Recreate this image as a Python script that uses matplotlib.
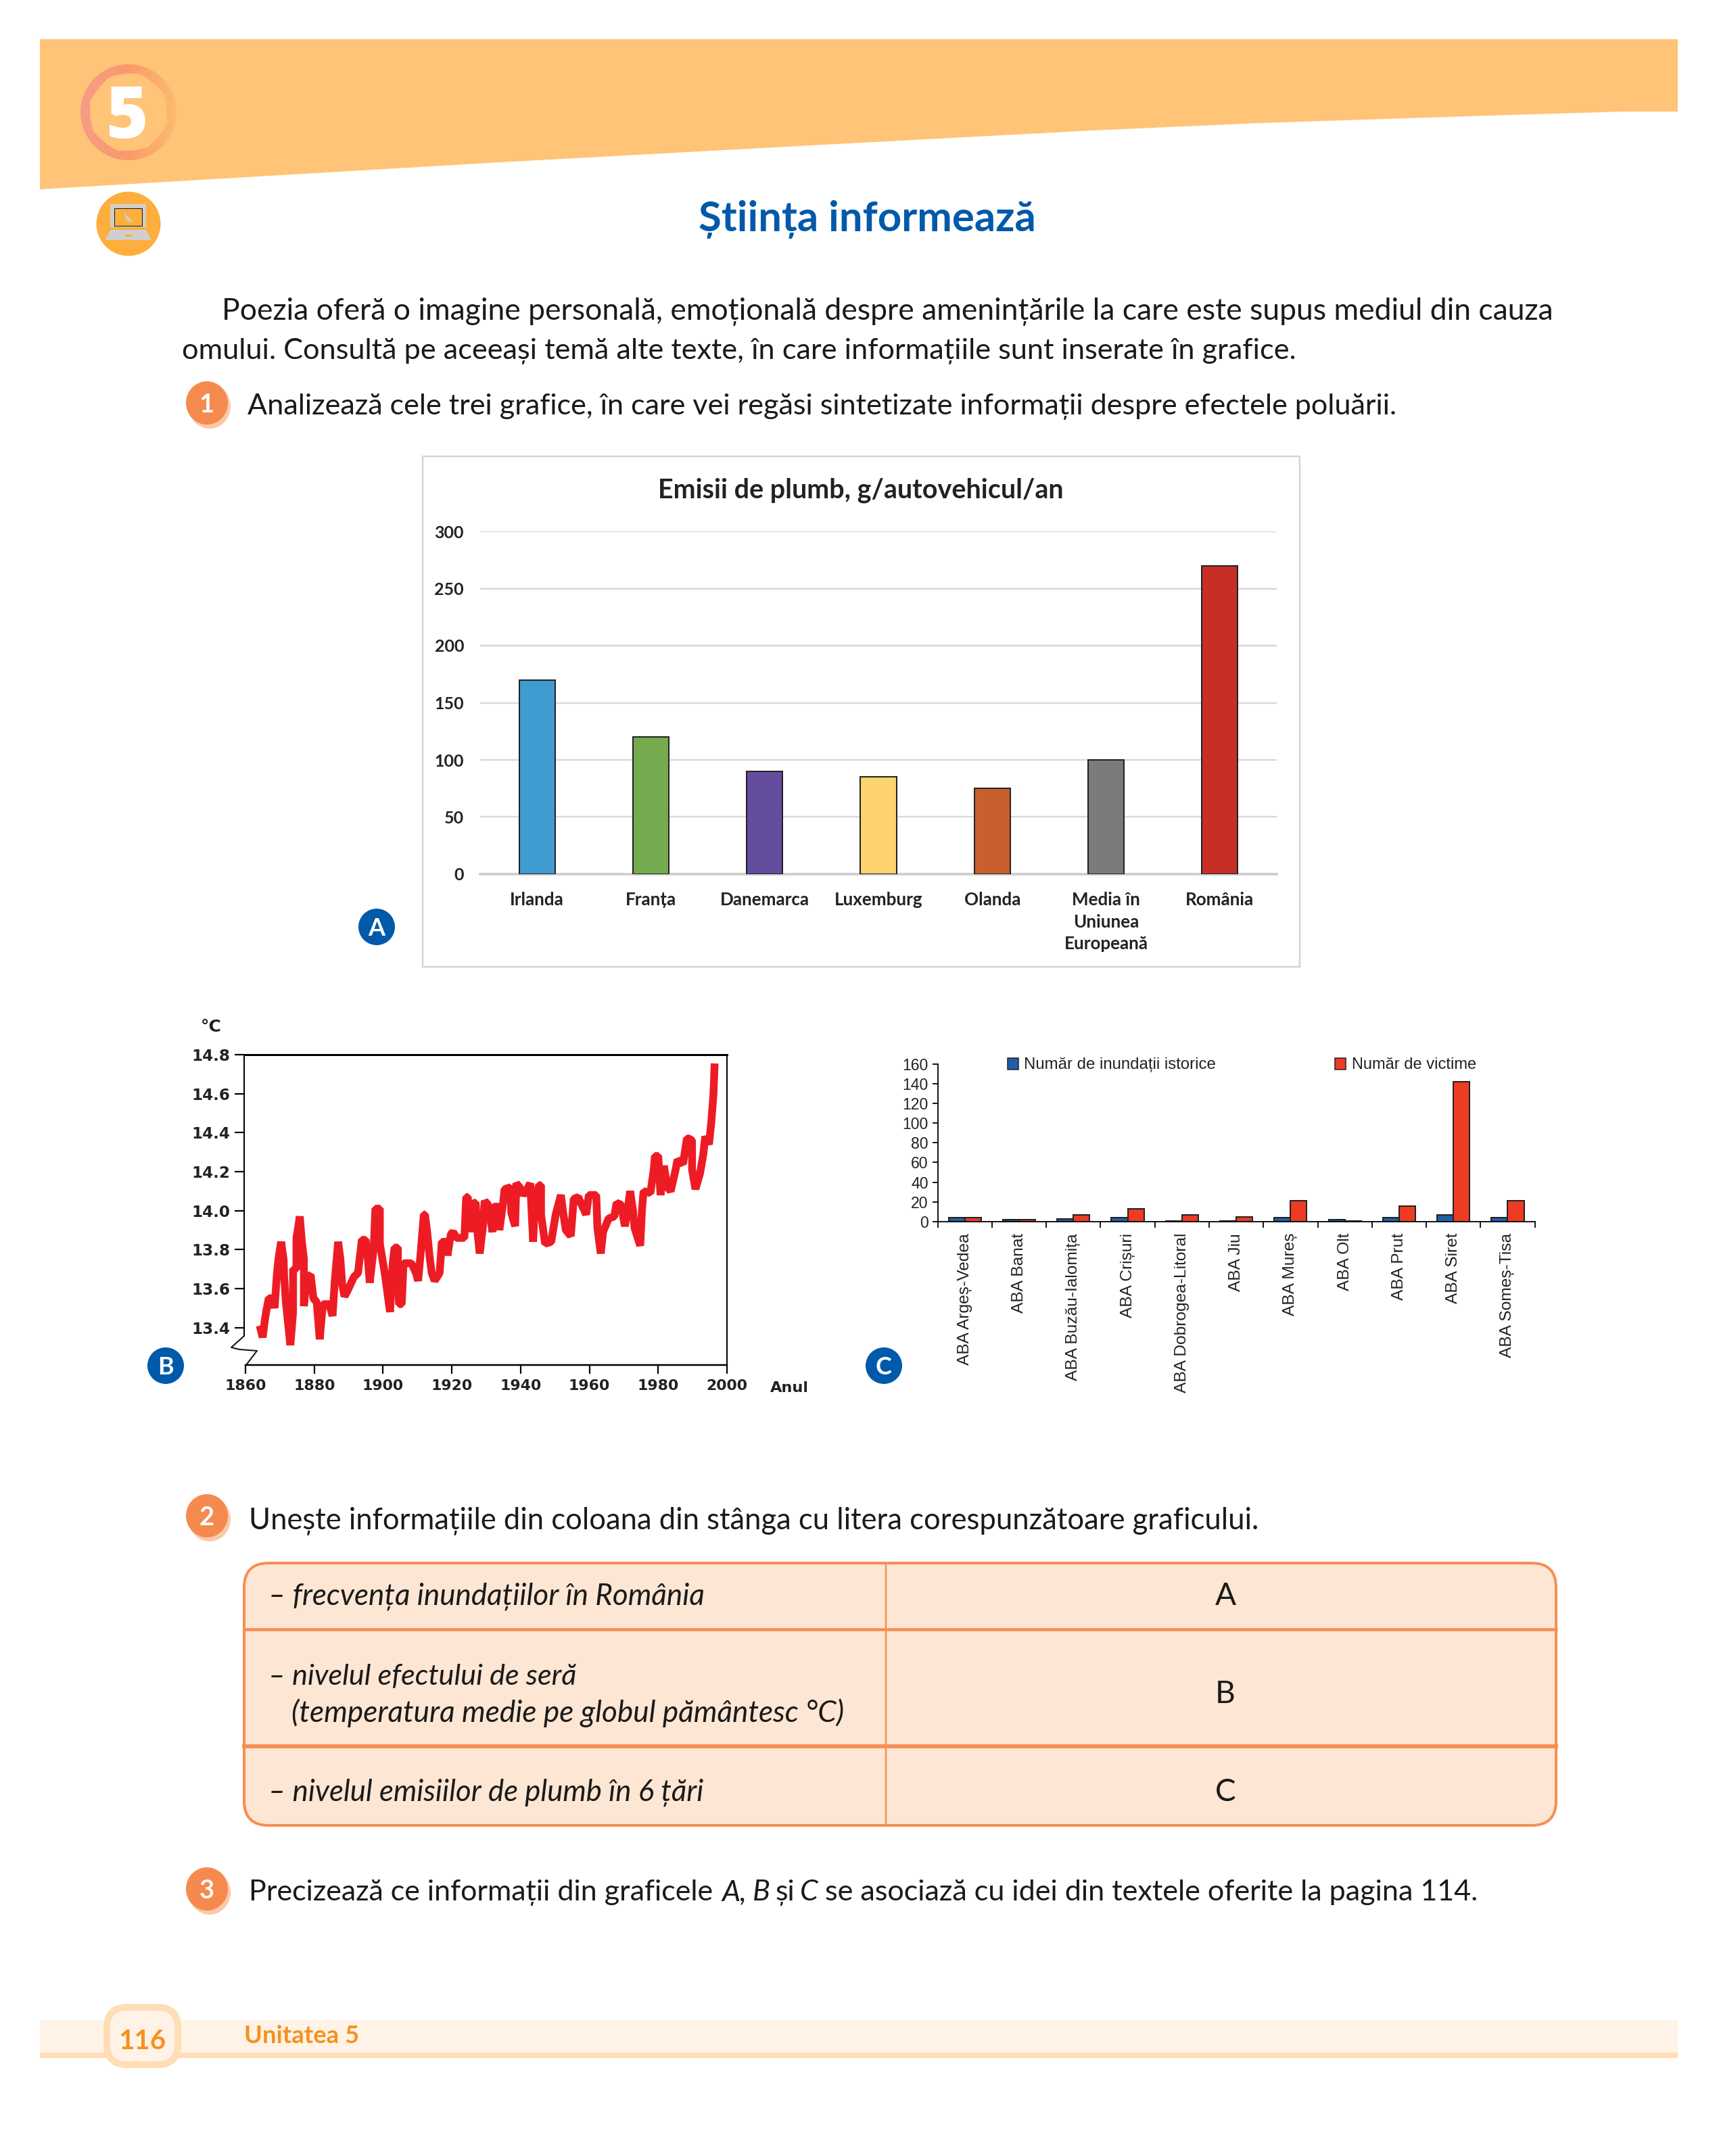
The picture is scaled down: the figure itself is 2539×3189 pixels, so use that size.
import numpy as np
import matplotlib
matplotlib.use('Agg')
import matplotlib.pyplot as plt
from matplotlib.patches import Ellipse, FancyBboxPatch, Polygon, Rectangle, PathPatch
from matplotlib.path import Path

W, H = 2539, 3189
PT = 0.72  # points per pixel at dpi 100

# ---- chart A
a_cats = ['Irlanda', 'Franța', 'Danemarca', 'Luxemburg', 'Olanda', 'Media în\nUniunea\nEuropeană', 'România']
a_vals = [170, 120, 90, 85, 75, 100, 270]
a_cols = ['#3F9BD0', '#74AB4F', '#644C9F', '#FCD36C', '#C85F2D', '#7C7A7C', '#C62E27']
a_ticks = [0, 50, 100, 150, 200, 250, 300]

# ---- chart B
b_years = [1864.13, 1864.99, 1865.64, 1866.1, 1866.76, 1867.94, 1868.46, 1869.11, 1869.57, 1870.36, 1871.08, 1871.21,
           1871.74, 1873.05, 1873.83, 1873.83, 1874.82, 1874.82, 1875.8, 1876.33, 1876.98, 1876.98, 1877.77, 1878.95,
           1879.74, 1880.72, 1881.57, 1882.49, 1884.32, 1885.31, 1885.96, 1886.94, 1887.6, 1888.12, 1888.78, 1889.7,
           1891.53, 1892.71, 1893.83, 1894.94, 1895.6, 1896.12, 1897.3, 1897.76, 1899.07, 1899.07, 1900.38, 1901.04,
           1902.02, 1902.81, 1903.33, 1904.32, 1904.32, 1904.64, 1905.43, 1905.95, 1908.25, 1909.56, 1910.2, 1910.87,
           1911.85, 1912.18, 1912.83, 1913.49, 1914.15, 1915, 1916.44, 1917.1, 1918.27, 1918.73, 1919.72, 1920.37,
           1921.36, 1923.65, 1924.18, 1924.63, 1925.49, 1926.27, 1926.93, 1927.45, 1928.11, 1929.03, 1929.55, 1930.53,
           1931.84, 1932.17, 1933.61, 1933.81, 1934.92, 1935.32, 1937.09, 1937.28, 1938.4, 1938.73, 1939.71, 1940.69,
           1941.87, 1942.79, 1943.64, 1943.97, 1945.28, 1945.94, 1945.94, 1947.12, 1948.89, 1950.2, 1951.71, 1952.36,
           1953.15, 1954.59, 1955.44, 1956.75, 1957.74, 1959.05, 1959.83, 1961.99, 1962.33, 1963.31, 1963.96, 1965.6,
           1967.24, 1967.9, 1969.21, 1970.32, 1971.17, 1971.83, 1972.68, 1973.14, 1974.78, 1975.3, 1975.76, 1977.73,
           1978.71, 1979.04, 1980.02, 1980.68, 1981.66, 1982.65, 1983.63, 1984.94, 1985.6, 1987.23, 1988.35, 1988.87,
           1989.85, 1989.85, 1990.84, 1992.15, 1993.13, 1993.66, 1994.77, 1995.43, 1996.08, 1996.41]
b_temps = [13.41, 13.35, 13.44, 13.49, 13.55, 13.55, 13.50, 13.67, 13.75, 13.84, 13.75, 13.67,
           13.53, 13.31, 13.48, 13.70, 13.70, 13.86, 13.97, 13.85, 13.75, 13.51, 13.66, 13.67,
           13.55, 13.53, 13.34, 13.52, 13.52, 13.46, 13.64, 13.84, 13.75, 13.62, 13.56, 13.59,
           13.66, 13.68, 13.85, 13.85, 13.75, 13.63, 13.81, 14.01, 14.01, 13.83, 13.69, 13.61,
           13.48, 13.73, 13.81, 13.81, 13.69, 13.52, 13.52, 13.73, 13.73, 13.68, 13.64, 13.77,
           13.98, 13.98, 13.89, 13.77, 13.68, 13.64, 13.68, 13.84, 13.84, 13.77, 13.88, 13.89,
           13.86, 13.86, 14.07, 14.07, 13.89, 14.04, 14.04, 13.89, 13.78, 13.92, 14.05, 14.03,
           13.89, 14.02, 14.02, 13.90, 14.04, 14.11, 14.12, 13.99, 13.92, 14.14, 14.12, 14.08,
           14.11, 14.14, 13.84, 13.98, 14.13, 14.13, 13.98, 13.83, 13.84, 13.98, 14.08, 13.99,
           13.90, 13.87, 14.06, 14.07, 14.03, 13.98, 14.08, 14.08, 13.91, 13.78, 13.89, 13.96,
           13.97, 14.04, 14.03, 13.92, 14.01, 14.10, 14.00, 13.91, 13.82, 14.01, 14.10, 14.09,
           14.21, 14.28, 14.28, 14.08, 14.23, 14.12, 14.10, 14.20, 14.26, 14.24, 14.37, 14.37,
           14.36, 14.21, 14.11, 14.19, 14.29, 14.38, 14.34, 14.45, 14.60, 14.755]
b_yticks = [13.4, 13.6, 13.8, 14.0, 14.2, 14.4, 14.6, 14.8]
b_xticks = [1860, 1880, 1900, 1920, 1940, 1960, 1980, 2000]

# ---- chart C
c_cats = ['ABA Argeș-Vedea', 'ABA Banat', 'ABA Buzău-Ialomița', 'ABA Crișuri', 'ABA Dobrogea-Litoral', 'ABA Jiu',
          'ABA Mureș', 'ABA Olt', 'ABA Prut', 'ABA Siret', 'ABA Someș-Tisa']
c_floods = [4, 2, 3, 4, 1, 1, 4, 2, 4, 7, 4]
c_victims = [4, 2, 7, 13, 7, 5, 21, 1, 16, 142, 21]
c_yticks = [0, 20, 40, 60, 80, 100, 120, 140, 160]
c_names = ['Număr de inundații istorice', 'Număr de victime']

fig = plt.figure(figsize=(W / 100, H / 100), dpi=100, facecolor='white')
page = fig.add_axes([0, 0, 1, 1], zorder=0)
over = fig.add_axes([0, 0, 1, 1], zorder=10)
for p in (page, over):
    p.set_xlim(0, W)
    p.set_ylim(H, 0)
    p.axis('off')
    p.patch.set_alpha(0)
rend = fig.canvas.get_renderer()


def fit(x0, x1, y, s, ax=page, family='Lato', **kw):
    t = ax.text(x0, y, s, family=family, va='baseline', ha='left', fontsize=30, **kw)
    w = t.get_window_extent(rend).width
    t.set_fontsize(30 * (x1 - x0) / w)
    return t


def axpx(l, t, r, b):
    return fig.add_axes([l / W, 1 - b / H, (r - l) / W, (b - t) / H], zorder=5)


# ---- page furniture
page.add_patch(Polygon([(59, 58), (2481, 58), (2481, 165), (2402, 165), (2200, 171), (1863, 182), (1615, 193),
                        (1200, 215), (740, 240), (59, 280)],
                       closed=True, fc='#FFC477', ec='none'))
# chapter ring with gradient
cx, cy = 190, 166
outer = Path.circle((cx, cy), 71)
inner = Path.circle((cx, cy), 57)
ring = PathPatch(Path.make_compound_path(outer, Path(inner.vertices[::-1], inner.codes)), fc='none', ec='none')
page.add_patch(ring)
img = page.imshow(np.linspace(0, 1, 256).reshape(1, -1), extent=(cx - 71, cx + 71, cy + 72, cy - 72), aspect='auto',
                  cmap=matplotlib.colors.LinearSegmentedColormap.from_list('r', ['#F89C86', '#F99A6C', '#FDBB6F']),
                  zorder=2)
img.set_clip_path(ring)
page.set_xlim(0, W)
page.set_ylim(H, 0)
page.text(187, 204, '5', color='white', family='Open Sans', weight='extra bold', fontsize=77,
          ha='center', va='baseline', zorder=3)
# laptop icon
page.add_patch(Ellipse((190, 331), 95, 95, fc='#FDAE3C', ec='none'))
page.add_patch(Rectangle((163, 302), 53, 34, fc='#CFCFCF', ec='none'))
page.add_patch(Rectangle((169, 308), 41, 26, fc='#FDAE3C', ec='#222222', lw=0.8))
page.add_patch(Polygon([(163, 340), (216, 340), (224, 355), (156, 355)], closed=True, fc='#CFCFCF', ec='none'))
page.add_patch(Rectangle((185, 347), 10, 3, fc='#FDAE3C', ec='none'))
page.add_patch(Polygon([(183, 315), (196, 327), (192, 329), (187, 325)], closed=True, fc='#CFCFCF', ec='none'))

fit(1033, 1531, 342, 'Știința informează', color='#0059A9', weight='bold')
fit(328, 2298, 473, 'Poezia oferă o imagine personală, emoțională despre amenințările la care este supus mediul din cauza', color='#1A1A1A')
fit(269, 1917, 531, 'omului. Consultă pe aceeași temă alte texte, în care informațiile sunt inserate în grafice.', color='#1A1A1A')
fit(366, 2068, 613, 'Analizează cele trei grafice, în care vei regăsi sintetizate informații despre efectele poluării.', color='#1A1A1A')
fit(368, 1860, 2262, 'Unește informațiile din coloana din stânga cu litera corespunzătoare graficului.', color='#1A1A1A')

for num, by in (('1', 596), ('2', 2242), ('3', 2794)):
    page.add_patch(Ellipse((310, by + 5), 62, 66, fc='#FBC9A8', ec='none'))
    page.add_patch(Ellipse((306, by), 62, 64, fc='#F58A4F', ec='none'))
    page.text(306, by + 14, num, color='white', family='Lato', weight='bold', fontsize=38 * PT, ha='center', va='baseline')

# third instruction, mixed roman and italic
t3 = fit(368, 1056, 2811, 'Precizează ce informații din graficele', color='#1A1A1A')
fit(1220, 2187, 2811, 'se asociază cu idei din textele oferite la pagina 114.', color='#1A1A1A')
for x, s, st in ((1067, 'A,', 'italic'), (1113, 'B', 'italic'), (1147, 'și', 'normal'), (1183, 'C', 'italic')):
    page.text(x, 2811, s, family='Lato', style=st, fontsize=t3.get_fontsize(), color='#1A1A1A', va='baseline', ha='left')

# table
page.add_patch(FancyBboxPatch((361 + 36, 2312 + 36), 2301 - 361 - 72, 2700 - 2312 - 72, boxstyle='round,pad=36,rounding_size=36',
                              fc='#FDE6D3', ec='#F58F55', lw=4 * PT))
page.plot([1310, 1310], [2312, 2700], color='#F58F55', lw=2.5 * PT)
page.plot([361, 2301], [2410, 2410], color='#F58F55', lw=4.5 * PT)
page.plot([361, 2301], [2583, 2583], color='#F58F55', lw=6 * PT)
fit(397, 1042, 2373, '– frecvența inundațiilor în România', style='italic', color='#1A1A1A')
fit(397, 852, 2492, '– nivelul efectului de seră', style='italic', color='#1A1A1A')
fit(431, 1247, 2547, '(temperatura medie pe globul pământesc °C)', style='italic', color='#1A1A1A')
fit(397, 1040, 2664, '– nivelul emisiilor de plumb în 6 țări', style='italic', color='#1A1A1A')
for s, y in (('A', 2374), ('B', 2519), ('C', 2664)):
    page.text(1812, y, s, family='Lato', fontsize=46 * PT, color='#1A1A1A', ha='center', va='baseline')

# footer
page.add_patch(Rectangle((59, 2988), 2422, 48, fc='#FEF3E6', ec='none'))
page.add_patch(Rectangle((59, 3036), 2422, 7.5, fc='#FFDDB5', ec='none'))
page.add_patch(FancyBboxPatch((158 + 30, 2969 + 30), 105 - 60, 85 - 60, boxstyle='round,pad=30,rounding_size=30',
                              fc='#FEF3E6', ec='#FFDDB5', lw=10 * PT))
fit(175, 245, 3031, '116', weight='bold', color='#F7901E')
fit(361, 531, 3022, 'Unitatea 5', weight='bold', color='#F7901E')

# letter badges
for s, x, y in (('A', 557, 1371), ('B', 245, 2020), ('C', 1307, 2020)):
    over.add_patch(Ellipse((x, y), 54, 54, fc='#0059A9', ec='none'))
    over.text(x, y + 13, s, color='white', family='Lato', weight='bold', fontsize=36 * PT, ha='center', va='baseline')

# ---- chart A
page.add_patch(Rectangle((625, 675), 1297, 755, fc='white', ec='#D4D4D4', lw=2.5 * PT))
axa = axpx(710, 786, 1888, 1293)
axa.patch.set_alpha(0)
xa = np.arange(len(a_vals))
axa.bar(xa, a_vals, width=0.316, color=a_cols, edgecolor='#222222', linewidth=2 * PT, zorder=3)
axa.set_xlim(-0.5, 6.5)
axa.set_ylim(0, 300)
axa.set_yticks(a_ticks)
axa.set_yticklabels(a_ticks, family='Lato', weight='bold', fontsize=25 * PT, color='#222222')
axa.set_xticks(xa)
axa.set_xticklabels(a_cats, family='Lato', weight='bold', fontsize=26 * PT, color='#222222', linespacing=1.43)
axa.tick_params(axis='y', length=0, pad=24 * PT)
axa.tick_params(axis='x', length=0, pad=26 * PT)
axa.grid(axis='y', color='#D9D9D9', lw=2.5 * PT, zorder=0)
axa.set_axisbelow(True)
for sp in ('top', 'left', 'right'):
    axa.spines[sp].set_visible(False)
axa.spines['bottom'].set_color('#D0D0D0')
axa.spines['bottom'].set_linewidth(4 * PT)
fit(973, 1573, 737, 'Emisii de plumb, g/autovehicul/an', weight='bold', color='#222222')

# ---- chart B
axb = axpx(361, 1560, 1075, 2019)
axb.plot(b_years, b_temps, color='#ED1C24', lw=11.5 * PT, solid_joinstyle='bevel', solid_capstyle='butt')
axb.set_xlim(1859.6, 2000)
axb.set_ylim(13.208, 14.8)
axb.set_xticks(b_xticks)
axb.set_yticks(b_yticks)
axb.set_yticklabels(['%.1f' % v for v in b_yticks], family='DejaVu Sans', weight='bold', fontsize=23 * PT, color='#222222')
axb.set_xticklabels(b_xticks, family='DejaVu Sans', weight='bold', fontsize=22 * PT, color='#222222')
axb.tick_params(axis='y', length=14 * PT, width=2.2 * PT, pad=7 * PT)
axb.tick_params(axis='x', length=13 * PT, width=2.2 * PT, pad=8 * PT)
axb.spines['left'].set_bounds(13.357, 14.8)
axb.spines['bottom'].set_bounds(1860, 2000)
axb.spines['top'].set_linewidth(3 * PT)
axb.spines['left'].set_linewidth(2 * PT)
axb.spines['right'].set_linewidth(2 * PT)
axb.spines['bottom'].set_linewidth(2.5 * PT)
over.plot([361, 342, 354, 380, 364], [1976, 1993, 1996, 1998, 2019], color='#111111', lw=2 * PT)
over.text(1139, 2059, 'Anul', family='DejaVu Sans', weight='bold', fontsize=22.5 * PT, color='#222222', va='baseline')
over.text(297, 1526, '°C', family='DejaVu Sans', weight='bold', fontsize=25 * PT, color='#222222', va='baseline')

# ---- chart C
axc = axpx(1386.6, 1573.6, 2269.6, 1807)
axc.patch.set_alpha(0)
xc = np.arange(len(c_cats))
bw = 0.3
axc.bar(xc - bw / 2, c_floods, bw, color='#1F5FA8', edgecolor='#222222', linewidth=2 * PT)
axc.bar(xc + bw / 2, c_victims, bw, color='#EE3B24', edgecolor='#222222', linewidth=2 * PT)
axc.set_xlim(-0.5, 10.5)
axc.set_ylim(0, 160)
axc.set_yticks(c_yticks)
axc.set_yticklabels(c_yticks, family='Liberation Sans', fontsize=23 * PT, color='#222222')
axc.tick_params(axis='y', length=8 * PT, width=1.8 * PT, pad=6 * PT)
axc.set_xticks(np.append(xc - 0.5, 10.5))
axc.set_xticklabels([''] * 12)
axc.tick_params(axis='x', length=9 * PT, width=1.8 * PT)
for i, name in enumerate(c_cats):
    axc.annotate(name, (i, 0), xycoords=('data', 'axes fraction'), xytext=(0, -17 * PT), textcoords='offset points',
                 rotation=90, ha='center', va='top', family='Liberation Sans', fontsize=24.5 * PT, color='#222222')
for sp in ('top', 'right'):
    axc.spines[sp].set_visible(False)
axc.spines['left'].set_linewidth(1.8 * PT)
axc.spines['bottom'].set_linewidth(1.8 * PT)
for lx, tx0, tx1, name, col in ((1490, 1514, 1798, c_names[0], '#1F5FA8'), (1974, 1999, 2183, c_names[1], '#EE3B24')):
    over.add_patch(Rectangle((lx, 1565), 16, 17, fc=col, ec='#222222', lw=1.5 * PT))
    fit(tx0, tx1, 1581, name, ax=over, family='Liberation Sans', color='#222222')

fig.savefig('out.png', dpi=100, facecolor='white')
